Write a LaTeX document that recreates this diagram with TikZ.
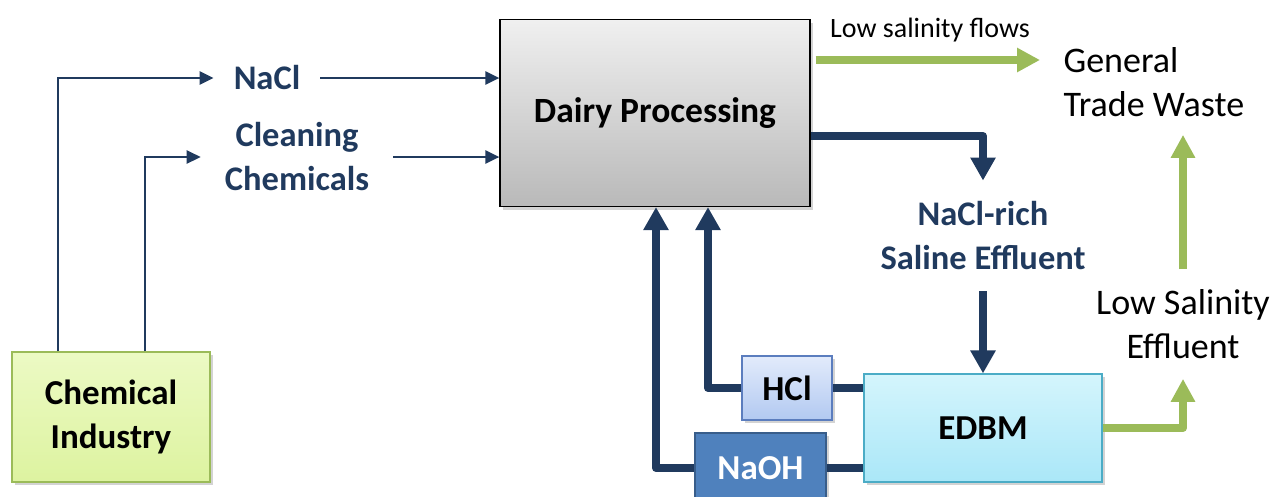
\documentclass[tikz,border=0pt]{standalone}
\usepackage{fontspec}
\setmainfont{Carlito}
\usetikzlibrary{arrows.meta,positioning,calc,shadows}
\definecolor{flowblue}{HTML}{203A5E}
\definecolor{flowgreen}{HTML}{9BBB59}
\tikzstyle{block} = [draw, rectangle, align=center, line width=1.2pt, font=\bfseries\fontsize{35}{44}\selectfont, drop shadow={opacity=0.35, shadow xshift=3pt, shadow yshift=-3pt}]
\tikzstyle{label} = [align=center, text=flowblue, font=\bfseries\fontsize{34.5}{44}\selectfont]
\tikzstyle{plain} = [align=center, font=\fontsize{36}{44}\selectfont]
\tikzstyle{thinflow} = [flowblue, line width=2.5pt, -{Triangle[width=13pt,length=14pt]}]
\tikzstyle{saltline} = [flowblue, line width=8pt, line join=round]
\tikzstyle{saltflow} = [saltline, -{Triangle[width=24pt,length=23pt]}]
\tikzstyle{greenflow} = [flowgreen, line width=8pt, line join=round, -{Triangle[width=23pt,length=23pt]}]

\begin{document}
\begin{tikzpicture}[x=1pt, y=-1pt]
\useasboundingbox (0,0) rectangle (1273,496);

% process boxes
\node[block, top color=gray!12, bottom color=gray!55, minimum width=310pt, minimum height=187pt, font=\bfseries\fontsize{35.5}{44}\selectfont] (dairy) at (655,113) {Dairy Processing};
\node[block, draw=flowgreen, top color={rgb,255:red,236;green,250;blue,196}, bottom color={rgb,255:red,221;green,243;blue,160}, minimum width=198pt, minimum height=130pt] (chem) at (111,417) {Chemical\\Industry};
\node[block, draw={rgb,255:red,91;green,125;blue,190}, top color={rgb,255:red,226;green,235;blue,251}, bottom color={rgb,255:red,178;green,201;blue,241}, minimum width=90pt, minimum height=64pt] (hcl) at (787,388) {HCl};
\node[block, draw={rgb,255:red,56;green,93;blue,138}, fill={rgb,255:red,79;green,129;blue,189}, text=white, minimum width=131pt, minimum height=70pt] (naoh) at (760.5,468) {NaOH};
\node[block, draw={rgb,255:red,75;green,172;blue,198}, top color={rgb,255:red,212;green,245;blue,252}, bottom color={rgb,255:red,170;green,231;blue,248}, minimum width=238pt, minimum height=108pt] (edbm) at (983,428) {EDBM};

% stream labels
\node[label, inner xsep=20pt] (nacl) at (267,78) {NaCl};
\node[label, inner xsep=24pt] (clean) at (297,157) {Cleaning\\Chemicals};
\node[label, inner ysep=21pt] (rich) at (983,236) {NaCl-rich\\Saline Effluent};
\node[plain, font=\fontsize{28}{30}\selectfont] (lowflow) at (930,30) {Low salinity flows};
\node[plain, align=left, anchor=west, inner ysep=18pt] (gtw) at (1060,82) {General\\Trade Waste};
\node[plain, inner ysep=20pt] (lowsal) at (1183,324) {Low Salinity\\Effluent};
\coordinate (lowtip) at (1040,60);

% chemical supply
\draw[thinflow] ($(chem.north)+(-53,0)$) |- (nacl.west);
\draw[thinflow] ($(chem.north)+(34,0)$) |- (clean.west);
\draw[thinflow] (nacl.east) -- (nacl.east -| dairy.west);
\draw[thinflow] (clean.east) -- (clean.east -| dairy.west);

% saline effluent to EDBM
\draw[saltflow] ($(dairy.east)+(0,23)$) -| (rich.north);
\draw[saltflow] (rich.south) -- (rich.south |- edbm.north);

% acid and base back to dairy
\draw[saltline] (edbm.west |- hcl.east) -- (hcl.east);
\draw[saltline] (edbm.west |- naoh.east) -- (naoh.east);
\draw[saltflow] (hcl.west) -| ($(dairy.south)+(53,0)$);
\draw[saltflow] (naoh.west) -| ($(dairy.south)+(1,0)$);

% low salinity streams
\draw[greenflow] ($(dairy.east |- lowtip)+(5,0)$) -- (lowtip);
\draw[greenflow] (edbm.east) -| (lowsal.south);
\draw[greenflow] (lowsal.north) -- (lowsal.north |- gtw.south);

\end{tikzpicture}
\end{document}
